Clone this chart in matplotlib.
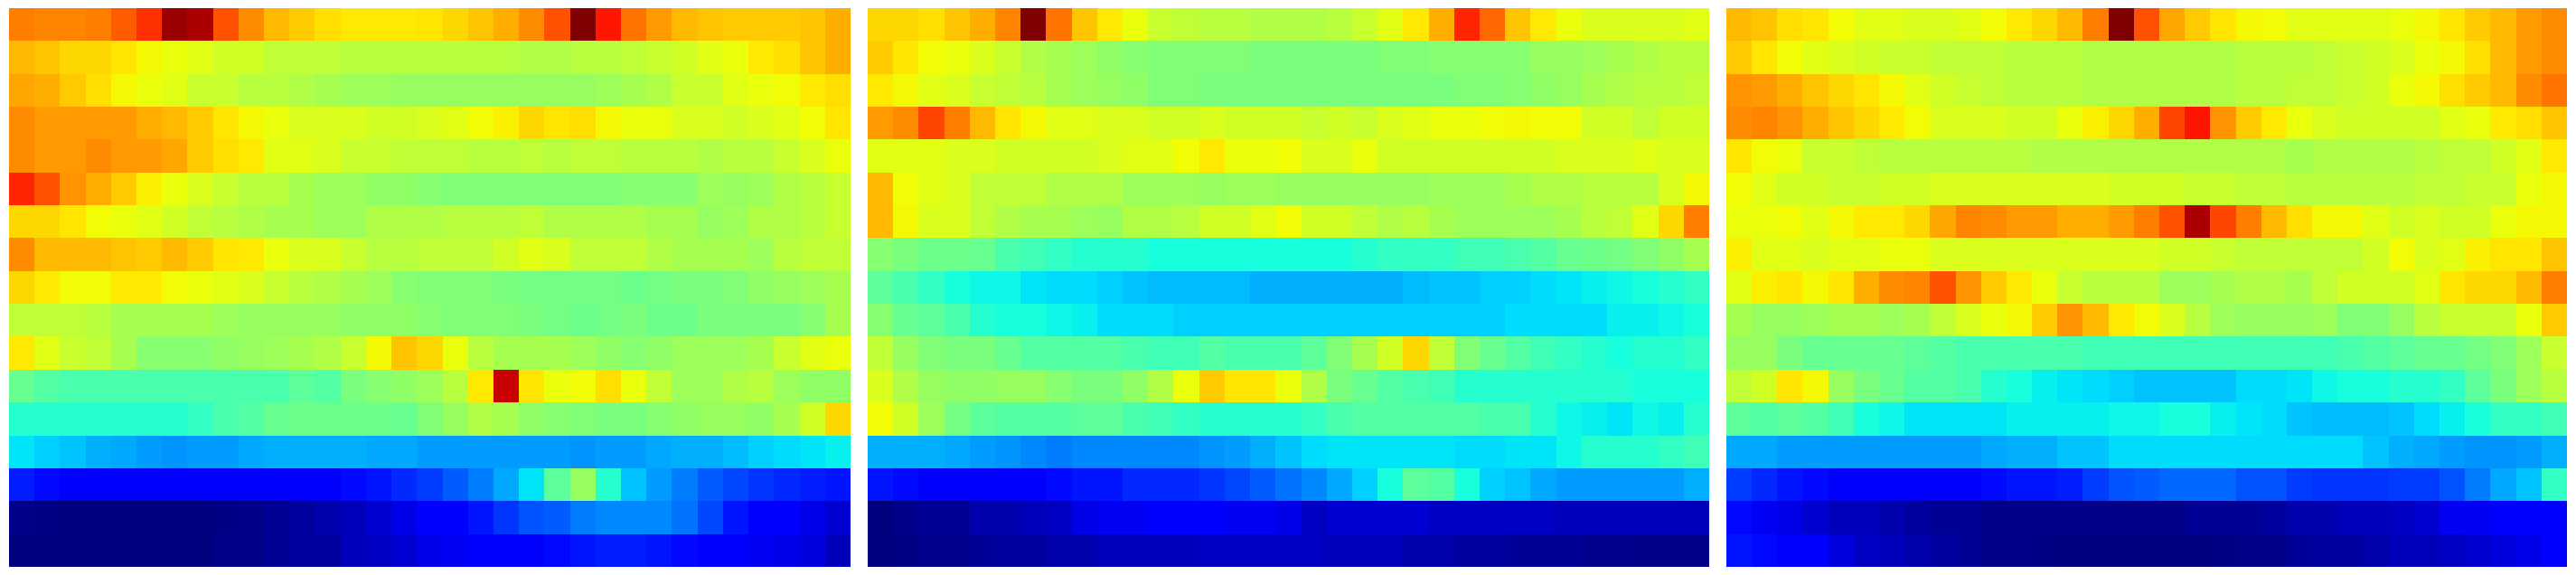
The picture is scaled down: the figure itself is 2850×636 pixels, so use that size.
import numpy as np
import matplotlib
matplotlib.use("Agg")
import matplotlib.pyplot as plt

panel_a = [
[.78,.77,.77,.78,.81,.85,.97,.95,.82,.76,.71, .69,.67,.65,.65,.65,.66,.68,.70,.72,.76,.82, 1.0,.87,.79,.74,.71,.70,.69,.69,.69,.70,.72],
[.71,.70,.68,.68,.66,.63,.61,.60,.58,.58,.56, .56,.56,.55,.55,.55,.55,.55,.55,.55,.54,.54, .55,.55,.56,.57,.58,.60,.61,.65,.67,.70,.72],
[.73,.72,.69,.67,.63,.61,.60,.57,.57,.55,.55, .54,.53,.52,.52,.51,.51,.51,.51,.51,.51,.51, .51,.52,.53,.54,.57,.57,.60,.61,.62,.65,.67],
[.76,.74,.74,.74,.74,.72,.71,.69,.66,.63,.61, .59,.59,.59,.58,.58,.59,.60,.62,.64,.68,.66, .67,.63,.61,.61,.59,.59,.58,.59,.60,.62,.66],
[.76,.74,.74,.76,.74,.74,.73,.69,.67,.65,.60, .60,.59,.57,.57,.56,.56,.56,.55,.55,.56,.55, .56,.56,.55,.55,.55,.54,.55,.55,.57,.59,.61],
[.86,.82,.75,.72,.69,.64,.61,.59,.57,.55,.55, .53,.52,.52,.50,.50,.49,.48,.48,.48,.48,.48, .48,.48,.49,.49,.49,.52,.51,.52,.54,.55,.57],
[.68,.68,.66,.62,.61,.60,.58,.56,.55,.54,.53, .53,.52,.52,.54,.54,.54,.55,.55,.55,.56,.54, .54,.54,.54,.53,.53,.51,.52,.54,.54,.55,.57],
[.76,.71,.71,.71,.70,.69,.71,.69,.66,.65,.61, .59,.59,.57,.55,.55,.56,.56,.56,.58,.60,.59, .56,.56,.56,.54,.53,.53,.53,.52,.55,.56,.56],
[.68,.65,.62,.62,.65,.65,.62,.61,.60,.59,.57, .55,.54,.53,.52,.49,.48,.48,.48,.47,.46,.46, .46,.46,.45,.46,.47,.47,.48,.50,.51,.52,.53],
[.56,.56,.56,.55,.53,.53,.53,.53,.52,.51,.51, .51,.51,.50,.50,.50,.49,.48,.48,.48,.47,.46, .45,.46,.47,.45,.45,.47,.47,.47,.47,.49,.53],
[.65,.60,.57,.56,.53,.49,.49,.49,.50,.51,.52, .53,.54,.57,.63,.70,.68,.61,.55,.53,.53,.53, .52,.50,.49,.50,.52,.52,.52,.53,.57,.60,.61],
[.44,.42,.41,.41,.41,.41,.41,.41,.41,.41,.41, .43,.42,.47,.49,.50,.52,.55,.65,.92,.66,.61, .62,.67,.61,.56,.52,.52,.54,.55,.52,.50,.50],
[.38,.38,.38,.38,.38,.38,.38,.39,.41,.42,.44, .45,.45,.45,.45,.44,.48,.51,.54,.53,.50,.49, .48,.47,.47,.49,.50,.51,.51,.50,.53,.58,.68],
[.34,.32,.31,.29,.28,.27,.26,.27,.27,.28,.29, .29,.29,.29,.28,.28,.27,.27,.27,.27,.27,.27, .26,.27,.27,.28,.29,.29,.30,.32,.33,.34,.35],
[.15,.13,.12,.12,.11,.11,.11,.11,.11,.11,.11, .11,.11,.13,.14,.16,.18,.21,.24,.28,.34,.43, .51,.38,.31,.27,.24,.21,.19,.17,.16,.15,.14],
[.01,.005,0,0,0,0,0,0,.005,.01,.02, .03,.04,.05,.07,.09,.11,.11,.14,.17,.20,.21, .24,.25,.25,.25,.23,.19,.14,.11,.11,.09,.07],
[0,0,0,0,0,0,0,0,.01,.01,.02, .03,.03,.05,.06,.07,.09,.10,.11,.11,.12,.13, .14,.15,.15,.14,.13,.12,.11,.10,.09,.08,.05],
]

panel_b = [
[.68,.68,.67,.70,.72,.77,1.0,.79,.70,.65,.61, .57,.56,.55,.55,.54,.54,.54,.55,.57,.60,.65, .72,.86,.80,.70,.65,.61,.59,.59,.59,.59,.60],
[.69,.66,.62,.61,.59,.57,.54,.53,.52,.50,.49, .48,.48,.48,.48,.47,.47,.47,.47,.47,.48,.48, .49,.49,.49,.49,.51,.51,.52,.53,.54,.55,.55],
[.65,.63,.60,.59,.57,.56,.55,.53,.52,.51,.50, .48,.48,.47,.47,.47,.47,.47,.47,.47,.47,.47, .47,.48,.48,.49,.50,.51,.53,.54,.55,.55,.56],
[.74,.76,.83,.78,.71,.66,.63,.60,.60,.59,.59, .58,.58,.59,.58,.58,.58,.57,.58,.57,.59,.60, .61,.61,.62,.63,.62,.62,.58,.58,.56,.58,.58],
[.60,.60,.60,.59,.59,.58,.58,.58,.58,.59,.60, .60,.62,.65,.61,.61,.62,.59,.59,.61,.58,.58, .58,.58,.58,.58,.58,.59,.59,.59,.60,.59,.59],
[.71,.62,.60,.59,.56,.56,.56,.54,.54,.54,.52, .52,.52,.51,.52,.52,.51,.51,.51,.51,.51,.51, .52,.52,.52,.53,.54,.54,.55,.55,.55,.59,.63],
[.71,.63,.59,.59,.56,.54,.53,.53,.52,.51,.54, .54,.55,.58,.58,.60,.62,.58,.58,.56,.54,.55, .53,.52,.52,.52,.52,.53,.55,.56,.60,.68,.78],
[.49,.47,.45,.45,.44,.41,.40,.39,.38,.38,.38, .37,.37,.37,.37,.37,.37,.37,.37,.38,.39,.39, .39,.40,.40,.41,.42,.44,.45,.46,.48,.50,.53],
[.43,.41,.39,.37,.36,.36,.34,.33,.33,.32,.31, .30,.30,.30,.30,.29,.29,.29,.29,.29,.29,.30, .31,.31,.32,.32,.33,.34,.35,.36,.37,.38,.39],
[.49,.44,.43,.41,.38,.37,.37,.36,.35,.33,.33, .33,.32,.32,.32,.32,.32,.32,.32,.32,.32,.32, .32,.32,.32,.33,.33,.33,.33,.35,.35,.36,.37],
[.56,.51,.48,.47,.47,.44,.42,.42,.42,.42,.41, .40,.40,.42,.41,.41,.41,.43,.48,.53,.58,.68, .56,.48,.44,.42,.40,.39,.38,.37,.38,.38,.39],
[.59,.54,.51,.50,.50,.51,.51,.49,.47,.47,.50, .54,.61,.69,.66,.66,.61,.54,.47,.44,.42,.41, .40,.38,.38,.38,.38,.38,.38,.38,.37,.37,.37],
[.62,.58,.52,.46,.43,.42,.42,.42,.43,.43,.41, .40,.39,.38,.38,.38,.38,.39,.41,.42,.42,.42, .42,.42,.41,.41,.38,.36,.35,.34,.36,.35,.38],
[.29,.29,.29,.28,.27,.26,.25,.24,.25,.25,.25, .25,.25,.26,.27,.29,.31,.33,.34,.34,.34,.34, .34,.33,.33,.34,.34,.36,.38,.38,.38,.39,.40],
[.14,.13,.12,.12,.11,.12,.12,.13,.14,.14,.16, .16,.16,.17,.19,.21,.23,.25,.28,.32,.37,.43, .42,.37,.32,.31,.28,.27,.27,.27,.27,.27,.29],
[0,.01,.02,.02,.04,.04,.05,.06,.09,.10,.10, .11,.11,.11,.10,.10,.09,.06,.07,.07,.07,.07, .06,.06,.06,.06,.06,.05,.05,.05,.05,.05,.05],
[0,.005,.015,.015,.02,.03,.03,.04,.04,.05,.05, .05,.05,.06,.06,.06,.06,.06,.05,.05,.05,.04, .04,.03,.03,.02,.02,.02,.015,.015,.01,.01,.01],
]

panel_c = [
[.71,.70,.67,.66,.62,.60,.60,.59,.59,.60,.62, .65,.68,.71,.78,1.0,.82,.73,.69,.66,.63,.62, .60,.60,.60,.60,.61,.63,.66,.69,.71,.74,.76],
[.69,.66,.62,.60,.59,.58,.57,.57,.56,.56,.56, .55,.55,.55,.54,.54,.54,.54,.54,.54,.55,.55, .55,.56,.57,.58,.59,.61,.63,.67,.71,.74,.76],
[.75,.74,.72,.70,.68,.66,.63,.60,.58,.57,.56, .55,.55,.55,.54,.54,.54,.54,.54,.54,.55,.55, .56,.56,.57,.58,.61,.63,.67,.69,.71,.76,.79],
[.76,.77,.75,.72,.70,.68,.65,.62,.59,.59,.59, .58,.58,.61,.64,.68,.72,.83,.87,.75,.69,.65, .61,.59,.58,.58,.58,.58,.60,.61,.65,.67,.70],
[.66,.62,.61,.57,.57,.56,.55,.55,.55,.55,.55, .55,.54,.54,.54,.54,.54,.54,.54,.54,.54,.54, .53,.54,.54,.54,.54,.55,.56,.56,.58,.60,.65],
[.62,.60,.58,.58,.57,.57,.58,.58,.59,.59,.59, .59,.59,.59,.59,.58,.58,.58,.57,.57,.56,.56, .55,.55,.55,.55,.55,.56,.56,.57,.57,.61,.63],
[.61,.61,.62,.60,.63,.65,.65,.68,.73,.77,.76, .74,.74,.72,.72,.74,.78,.82,.95,.83,.78,.71, .67,.63,.63,.60,.58,.59,.58,.58,.61,.63,.63],
[.64,.60,.60,.59,.60,.60,.61,.61,.59,.59,.59, .59,.59,.59,.59,.59,.59,.58,.58,.57,.56,.56, .56,.56,.56,.58,.62,.59,.60,.64,.66,.66,.70],
[.60,.64,.66,.63,.66,.72,.76,.77,.82,.75,.69, .65,.61,.57,.55,.55,.55,.52,.52,.53,.54,.54, .53,.56,.58,.58,.58,.60,.66,.68,.68,.71,.78],
[.53,.51,.51,.52,.53,.53,.52,.53,.56,.59,.61, .63,.69,.75,.71,.65,.62,.59,.55,.52,.51,.51, .51,.52,.48,.48,.51,.55,.57,.57,.57,.61,.69],
[.51,.51,.47,.44,.44,.44,.44,.43,.42,.41,.41, .41,.41,.41,.40,.40,.40,.40,.40,.40,.40,.40, .40,.40,.41,.42,.43,.44,.44,.46,.48,.52,.57],
[.56,.58,.66,.63,.51,.47,.44,.42,.42,.41,.38, .37,.35,.34,.33,.32,.31,.31,.31,.31,.33,.33, .34,.36,.37,.37,.38,.38,.39,.43,.47,.52,.55],
[.43,.42,.43,.42,.40,.37,.36,.34,.34,.34,.34, .35,.35,.35,.35,.36,.36,.37,.37,.35,.34,.33, .31,.30,.30,.30,.31,.33,.35,.37,.39,.39,.40],
[.28,.28,.27,.27,.27,.27,.27,.27,.27,.27,.28, .29,.29,.31,.31,.33,.33,.33,.33,.33,.33,.33, .33,.33,.33,.31,.29,.28,.27,.26,.26,.27,.29],
[.18,.16,.14,.13,.12,.11,.11,.11,.12,.12,.13, .14,.14,.15,.18,.20,.21,.22,.22,.22,.20,.20, .18,.17,.17,.17,.18,.18,.20,.24,.28,.31,.39],
[.13,.10,.09,.07,.05,.05,.04,.03,.02,.02,.01, .01,.01,.01,.01,.01,.01,.01,.02,.02,.02,.03, .04,.04,.05,.05,.06,.07,.10,.10,.11,.11,.12],
[.14,.13,.11,.11,.08,.06,.05,.04,.03,.02,.01, .01,.005,0,0,0,0,0,0,.005,.01,.01, .02,.03,.03,.04,.05,.05,.06,.07,.08,.09,.11],
]

# The readings above were taken by eye on a slightly compressed colour scale;
# these pairs place them correctly on the jet scale.
reading_scale = [0, .27, .29, .34, .37, .40, .44, .48, .52, .55, .58, .61, .64, .66, .68, .72, .78, .86, .89, 1]
jet_scale     = [0, .28, .30, .35, .381, .4275, .474, .505, .542, .573, .604, .635, .655, .667, .68, .726, .775, .87, .91, 1]

W, H = 2850, 636
fig = plt.figure(figsize=(W / 100, H / 100), dpi=100, facecolor="white")

panels = [panel_a, panel_b, panel_c]
lefts = [10, 960, 1910]
pw, ph, top = 930, 618, 9

for data, left in zip(panels, lefts):
    ax = fig.add_axes([left / W, 1 - (top + ph) / H, pw / W, ph / H])
    values = np.interp(np.array(data, dtype=float), reading_scale, jet_scale)
    ax.imshow(values, cmap="jet", vmin=0, vmax=1,
              aspect="auto", interpolation="nearest")
    ax.axis("off")

fig.savefig("out.png", dpi=100)
